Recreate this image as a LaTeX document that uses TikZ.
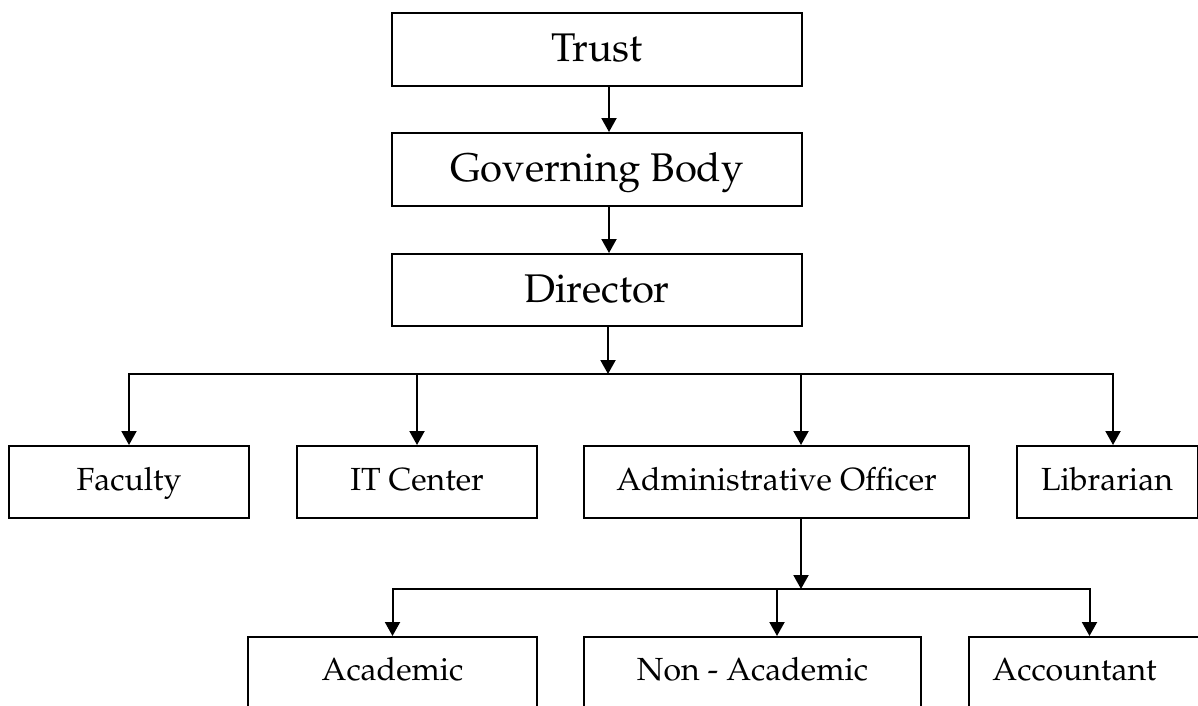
\documentclass[tikz,border=0pt]{standalone}
\usepackage[T1]{fontenc}
\usepackage{palatino}
\usetikzlibrary{arrows.meta}
\begin{document}
\begin{tikzpicture}[x=1pt,y=-1pt,line width=2pt,
  box/.style={draw,rectangle,inner sep=0pt,minimum height=73pt,
    font=\fontsize{40}{48}\selectfont,text height=28pt,text depth=4pt},
  boxb/.style={draw,rectangle,inner sep=0pt,minimum height=72pt,
    font=\fontsize{32}{38}\selectfont,text height=22pt,text depth=6pt},
  boxc/.style={draw,rectangle,inner sep=0pt,minimum height=70pt,
    font=\fontsize{32}{38}\selectfont,text height=22pt,text depth=6pt},
  arr/.style={-{Triangle[length=14pt,width=15pt]}}]
\useasboundingbox (0,0) rectangle (1198,705);
% top column
\node[box,minimum width=410pt] (trust) at (597,49.5) {Trust};
\node[box,minimum width=410pt] (gb) at (597,169.5) {Governing Body};
\node[box,minimum width=410pt,minimum height=72pt] (dir) at (597,290) {Director};
% second row
\node[boxb,minimum width=240pt] (fac) at (129,482) {Faculty};
\node[boxb,minimum width=240pt] (it) at (417,482) {IT Center};
\node[boxb,minimum width=385pt] (admin) at (776.5,482) {Administrative Officer};
\node[boxb,minimum width=181pt] (lib) at (1107,482) {Librarian};
% third row
\node[boxc,minimum width=289pt] (acad) at (392.5,672) {Academic};
\node[boxc,minimum width=337pt] (nonac) at (752.5,672) {Non - Academic};
\node[boxc,minimum width=241pt] (acct) at (1089.5,672) {\hspace*{-30pt}Accountant};
% connectors
\draw[arr] ([xshift=12pt]trust.south) -- ([xshift=12pt]gb.north);
\draw[arr] ([xshift=12pt]gb.south) -- ([xshift=12pt]dir.north);
\coordinate (j1) at (608,374);
\draw[arr] (dir.south -| j1) -- (j1);
\draw[arr] (j1) -| (fac.north);
\draw[arr] (j1) -| ([xshift=6pt]lib.north);
\draw[arr] (it.north |- j1) -- (it.north);
\draw[arr] ([xshift=24.5pt]admin.north |- j1) -- ([xshift=24.5pt]admin.north);
\coordinate (j2) at (801,589);
\draw[arr] ([xshift=24.5pt]admin.south) -- (j2);
\draw[arr] (j2) -| (acad.north);
\draw[arr] (j2) -| (acct.north);
\draw[arr] ([xshift=24.5pt]nonac.north |- j2) -- ([xshift=24.5pt]nonac.north);
\end{tikzpicture}
\end{document}
